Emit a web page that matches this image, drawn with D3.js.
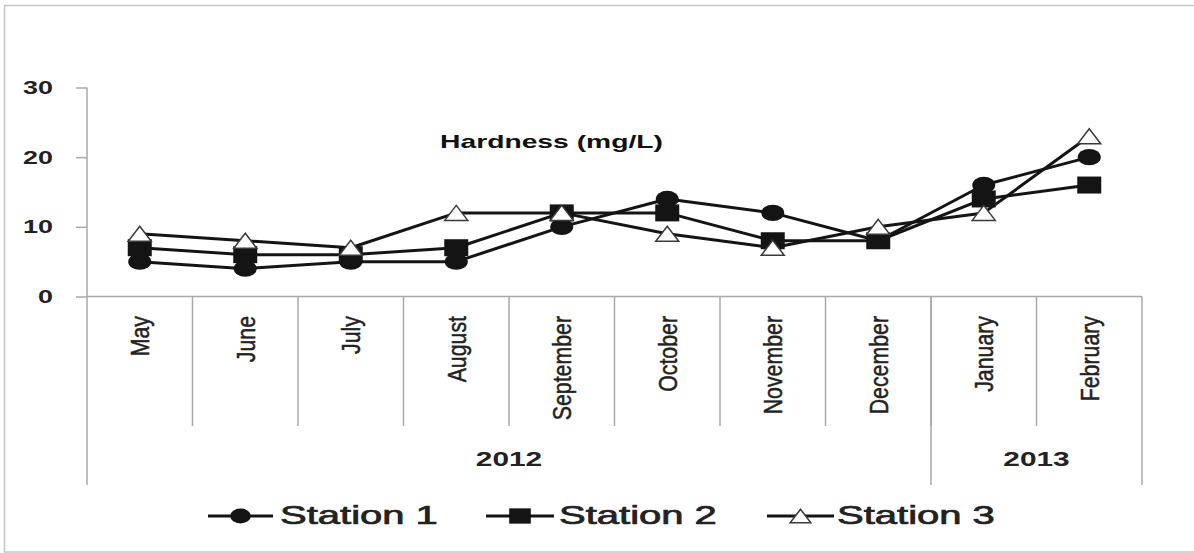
<!DOCTYPE html>
<html>
<head>
<meta charset="utf-8">
<script src="https://cdn.jsdelivr.net/npm/d3@7"></script>
<style>
  html, body { margin: 0; padding: 0; background: #fff; }
  svg { display: block; }
</style>
</head>
<body>
<svg id="chart" width="1194" height="553"></svg>
<script>
// ---- data ----
const months = ["May","June","July","August","September","October","November","December","January","February"];
const yearLabels = ["2012","2013"];
const yearMonthCounts = [8, 2];
const seriesNames = ["Station 1","Station 2","Station 3"];
const station1 = [5, 4, 5, 5, 10, 14, 12, 8, 16, 20];
const station2 = [7, 6, 6, 7, 12, 12, 8, 8, 14, 16];
const station3 = [9, 8, 7, 12, 12, 9, 7, 10, 12, 23];
const yTicks = [0, 10, 20, 30];
const chartTitle = "Hardness (mg/L)";

const seriesValues = [station1, station2, station3];
const markerTypes = ["circle", "square", "triangle"];

// ---- layout ----
const svg = d3.select("#chart");
const W = 1194, H = 553;
const plotLeft = 87, plotRight = 1142, plotTop = 87.5, plotBottom = 296.5;
const gridColor = "#a9a9a9";
const inkColor = "#141414";
const textColor = "#222";

// outer border
svg.append("rect")
  .attr("x", 4.5).attr("y", 5.5)
  .attr("width", W + 10).attr("height", 546.5)
  .attr("fill", "none").attr("stroke", "#c4c4c4").attr("stroke-width", 1.5);

const x = d3.scaleBand().domain(months).range([plotLeft, plotRight]).padding(0);
const y = d3.scaleLinear().domain([0, 30]).range([plotBottom, plotTop]);
const cx = m => x(m) + x.bandwidth() / 2;

// y axis ticks
const yAxis = d3.axisLeft(y).tickValues(yTicks).tickSize(11).tickFormat("");
const gy = svg.append("g").attr("transform", `translate(${plotLeft},0)`).call(yAxis);
gy.select(".domain").remove();
gy.selectAll(".tick line").attr("stroke", gridColor).attr("stroke-width", 1.5);

// y tick labels
svg.append("g").selectAll("text").data(yTicks).join("text")
  .attr("transform", d => `translate(53,${y(d)}) scale(1.52,1)`)
  .attr("text-anchor", "end")
  .attr("dy", "0.36em")
  .attr("font-family", "'Liberation Sans', Arial, sans-serif")
  .attr("font-weight", "bold")
  .attr("font-size", 17.7)
  .attr("fill", textColor)
  .text(d => d);

// axis lines and category table
const axisBottomEnd = 485;
const gridG = svg.append("g").attr("stroke", gridColor).attr("stroke-width", 1.5).attr("fill", "none");
gridG.append("line").attr("x1", plotLeft).attr("x2", plotLeft).attr("y1", plotTop).attr("y2", axisBottomEnd);
gridG.append("line").attr("x1", plotLeft).attr("x2", plotRight).attr("y1", plotBottom).attr("y2", plotBottom);

const monthEnd = 426;
months.forEach((m, i) => {
  if (i === 0) return;
  gridG.append("line").attr("x1", x(m)).attr("x2", x(m)).attr("y1", plotBottom).attr("y2", monthEnd);
});
let acc = 0;
const yearBounds = [];
yearMonthCounts.forEach((c) => {
  const start = acc; acc += c;
  const x0 = x(months[start]);
  const x1 = acc < months.length ? x(months[acc]) : plotRight;
  yearBounds.push([x0, x1]);
  gridG.append("line").attr("x1", x1).attr("x2", x1).attr("y1", plotBottom).attr("y2", axisBottomEnd);
});

// month labels, rotated
svg.append("g").selectAll("text").data(months).join("text")
  .attr("transform", d => `translate(${cx(d)},316) rotate(-90) scale(0.82,1)`)
  .attr("text-anchor", "end")
  .attr("dy", 9.3)
  .attr("font-family", "'Liberation Sans', Arial, sans-serif")
  .attr("font-size", 26)
  .attr("fill", textColor)
  .attr("stroke", textColor).attr("stroke-width", 0.5)
  .text(d => d);

// year labels
svg.append("g").selectAll("text").data(yearLabels).join("text")
  .attr("transform", (d, i) => `translate(${(yearBounds[i][0] + yearBounds[i][1]) / 2},466) scale(1.53,1)`)
  .attr("text-anchor", "middle")
  .attr("font-family", "'Liberation Sans', Arial, sans-serif")
  .attr("font-weight", "bold")
  .attr("font-size", 19.5)
  .attr("fill", textColor)
  .text(d => d);

// title
svg.append("text")
  .attr("transform", "translate(551.5,148) scale(1.57,1)")
  .attr("text-anchor", "middle")
  .attr("font-family", "'Liberation Sans', Arial, sans-serif")
  .attr("font-weight", "bold")
  .attr("font-size", 18)
  .attr("fill", "#111")
  .text(chartTitle);

// markers
function drawMarker(g, type, px, py, s) {
  s = s || 1;
  if (type === "circle") {
    g.append("ellipse").attr("cx", px).attr("cy", py).attr("rx", 11.5 * s).attr("ry", 8.2 * s)
      .attr("fill", inkColor);
  } else if (type === "square") {
    g.append("rect").attr("x", px - 12 * s).attr("y", py - 8.5 * s).attr("width", 24 * s).attr("height", 17 * s)
      .attr("fill", inkColor);
  } else {
    const w = 11.5 * s, h = 7.5 * s;
    g.append("path").attr("d", `M${px},${py - h}L${px + w},${py + h}L${px - w},${py + h}Z`)
      .attr("fill", "#fff").attr("stroke", "#3a3a3a").attr("stroke-width", 1.5);
  }
}

// series
const line = d3.line().x((d, i) => cx(months[i])).y(d => y(d));
seriesValues.forEach((vals, si) => {
  const g = svg.append("g");
  g.append("path").datum(vals).attr("d", line)
    .attr("fill", "none").attr("stroke", inkColor).attr("stroke-width", 3).attr("stroke-linejoin", "round");
  vals.forEach((v, i) => drawMarker(g, markerTypes[si], cx(months[i]), y(v)));
});

// legend
const legendItems = [
  { lineX0: 208, lineX1: 273, textX: 280 },
  { lineX0: 486, lineX1: 554, textX: 559 },
  { lineX0: 767, lineX1: 834, textX: 837 }
];
const legendY = 516;
seriesNames.forEach((name, i) => {
  const it = legendItems[i];
  const g = svg.append("g");
  g.append("line").attr("x1", it.lineX0).attr("x2", it.lineX1).attr("y1", legendY).attr("y2", legendY)
    .attr("stroke", inkColor).attr("stroke-width", 3);
  drawMarker(g, markerTypes[i], (it.lineX0 + it.lineX1) / 2, legendY, 0.9);
  g.append("text")
    .attr("transform", `translate(${it.textX},523.5) scale(1.6,1)`)
    .attr("font-family", "'Liberation Sans', Arial, sans-serif")
    .attr("font-size", 25)
    .attr("fill", textColor)
    .attr("stroke", textColor).attr("stroke-width", 0.7)
    .text(name);
});
</script>
</body>
</html>
